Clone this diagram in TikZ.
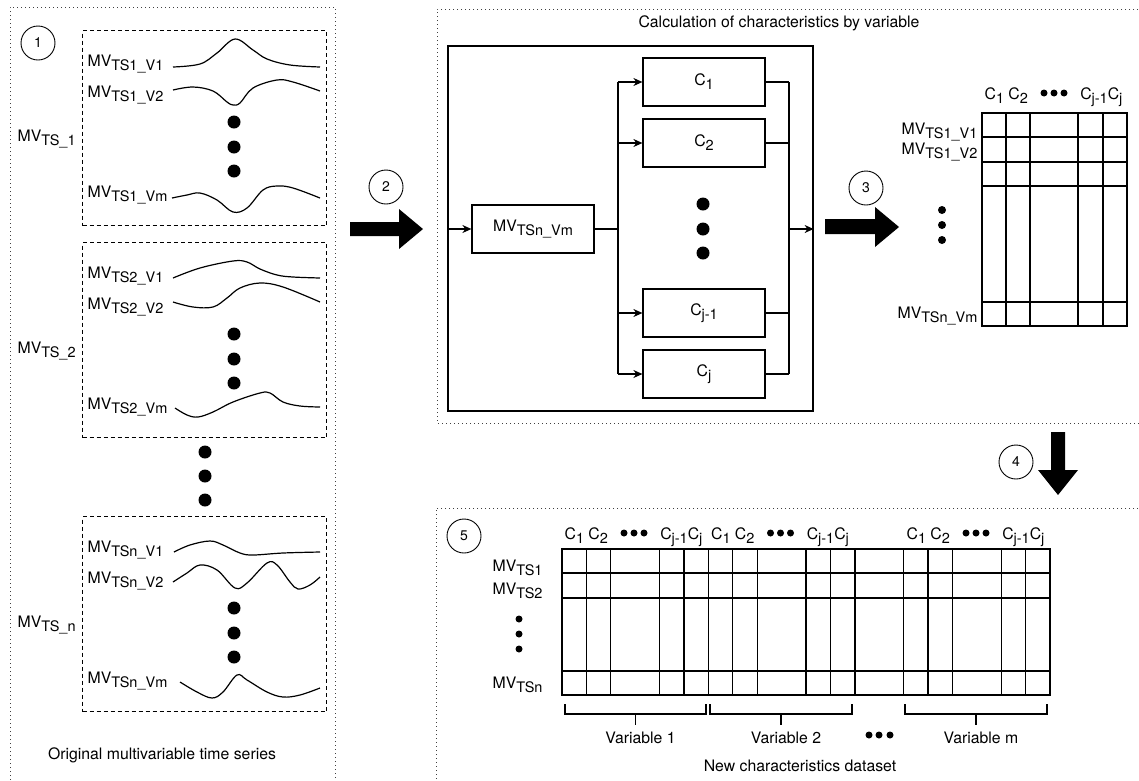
\documentclass[tikz,border=0pt]{standalone}
\usepackage{fontspec}
\setmainfont{TeX Gyre Heros}
\usetikzlibrary{arrows.meta}
\newcommand{\lowsub}[1]{\raisebox{-4pt}{\fontsize{14.5}{15}\selectfont #1}}
\tikzset{
  >={Stealth[length=9pt,width=8pt]},
  lbl/.style={inner sep=0pt,font=\fontsize{15.8}{18}\selectfont},
  num/.style={circle,draw,line width=0.9pt,minimum size=34pt,inner sep=0pt,font=\fontsize{14}{14}\selectfont},
  cbox/.style={draw,line width=1.2pt,minimum width=122pt,minimum height=48pt,inner sep=0pt,font=\fontsize{15.8}{18}\selectfont},
  panel/.style={line width=1pt,black!75,dash pattern=on 1pt off 3pt},
  grp/.style={draw,line width=1pt,dash pattern=on 4pt off 3pt,minimum width=244pt,minimum height=195pt,inner sep=0pt},
  wave/.style={line width=1.2pt,smooth,tension=0.6},
  cell/.style={line width=1.1pt},
  cellb/.style={line width=1.7pt},
  brk/.style={line width=1.8pt},
  every picture/.style={line width=1.2pt},
}
\begin{document}
\begin{tikzpicture}[x=1pt,y=-1pt]
\useasboundingbox (0,0) rectangle (1139,780);
\clip (0,0) rectangle (1139,780);
\draw[panel] (10,800) -- (10,7) -- (335,7) -- (335,800);
\draw[panel] (1150,9) -- (437,9) -- (437,423) -- (1150,423);
\draw[panel] (1150,508) -- (436,508) -- (436,800);
\node[num] (n1) at (38,43) {1};
\node[num] (n2) at (386,187) {2};
\node[num] (n3) at (866,188) {3};
\node[num] (n4) at (1016,462) {4};
\node[num] (n5) at (464,536) {5};
\foreach \gy/\s [count=\k] in {30/1, 242/2, 516/n} {
  \node[grp,anchor=north west] (g\k) at (82,\gy) {};
  \node[lbl,anchor=base west] (gl\k) at (17,\gy+111) {MV\lowsub{TS\_\s}};
  \node[lbl,anchor=base west] (ga\k) at (87,\gy+36) {MV\lowsub{TS\s\_V1}};
  \node[lbl,anchor=base west] (gb\k) at (87,\gy+67) {MV\lowsub{TS\s\_V2}};
  \node[lbl,anchor=base west] (gm\k) at (87,\gy+167) {MV\lowsub{TS\s\_Vm}};
  \foreach \d in {92,117,141} \fill (234,\gy+\d) circle (6.5);
}
\foreach \d in {452,476,500} \fill (205,\d) circle (6.5);
\draw[wave] plot coordinates {(173,67) (200,64) (217,53) (235,39) (253,50) (267,59) (290,65) (320,67)};
\draw[wave] plot coordinates {(173,90) (193,87) (213,91) (227,102) (233,105) (240,103) (253,88) (277,80) (293,82) (320,91)};
\draw[wave] plot coordinates {(172,198) (187,195) (200,193) (217,200) (233,212) (247,208) (263,190) (277,186) (293,188) (320,198)};
\draw[wave] plot coordinates {(173,278) (200,268) (233,261) (247,262) (260,269) (277,275) (293,277) (320,278)};
\draw[wave] plot coordinates {(173,302) (193,307) (213,307) (227,298) (240,288) (260,283) (283,287) (320,302)};
\draw[wave] plot coordinates {(175,408) (187,415) (198,417) (213,412) (233,402) (260,393) (270,393) (283,402) (300,406) (320,407)};
\draw[wave] plot coordinates {(174,552) (190,545) (210,541) (223,545) (240,553) (253,555) (283,553) (320,552)};
\draw[wave] plot coordinates {(173,582) (187,573) (200,565) (217,570) (235,588) (247,583) (267,563) (277,565) (290,582) (298,589) (310,585) (320,577)};
\draw[wave] plot coordinates {(180,682) (197,692) (212,698) (223,692) (237,675) (247,680) (267,692) (283,697) (300,695) (320,688)};
\node[lbl,anchor=base] (orig) at (162,759) {Original multivariable time series};
\fill (350,222) -- (399,222) -- (399,209) -- (423,229) -- (399,249) -- (399,236) -- (350,236) -- cycle;
\fill (825,219) -- (875,219) -- (875,207) -- (899,227) -- (875,247) -- (875,234) -- (825,234) -- cycle;
\fill (1051,432) -- (1051,470) -- (1038,470) -- (1058,495) -- (1078,470) -- (1065,470) -- (1065,432) -- cycle;
\node[lbl,anchor=base] (title) at (779,27) {Calculation of characteristics by variable};
\node[draw,minimum width=365pt,minimum height=365pt,inner sep=0pt] (calc) at (630.5,228.5) {};
\node[cbox] (mv) at (533,229) {MV\lowsub{TSn\_Vm}};
\node[cbox] (c1) at (704,82) {C\lowsub{1}};
\node[cbox] (c2) at (704,143) {C\lowsub{2}};
\node[cbox] (cj1) at (704,313) {C\lowsub{j-1}};
\node[cbox] (cj) at (704,374) {C\lowsub{j}};
\coordinate (split) at (618,229);
\coordinate (join) at (789,229);
\draw[->] (calc.west |- mv) -- (mv);
\draw (mv) -- (split);
\draw (split |- c1) -- (split |- cj);
\draw (join |- c1) -- (join |- cj);
\foreach \c in {c1,c2,cj1,cj} {
  \draw[->] (split |- \c) -- (\c);
  \draw (\c) -- (join |- \c);
}
\draw[->] (join) -- (calc.east |- join);
\foreach \d in {204,229,253} \fill (703,\d) circle (6.5);
\foreach \hx/\hy [count=\k] in {982/99, 562/539, 708.5/539, 904/539} {
  \node[lbl,anchor=base west] (hl\k) at (\hx+2,\hy) {C\lowsub{1} C\lowsub{2}};
  \foreach \d in {62,72,82} \fill (\hx+\d,\hy-6) circle (3.5);
  \node[lbl,anchor=base east] (hr\k) at (\hx+141,\hy) {C\lowsub{j-1}C\lowsub{j}};
}
\foreach \y in {137,162,186,302} \draw[cell] (982,\y) -- (1127,\y);
\foreach \x in {1006,1030,1078,1103} \draw[cell] (\x,113) -- (\x,326);
\draw[cellb] (982,113) rectangle (1127,326);
\node[lbl,anchor=base east] (ra) at (978,134) {MV\lowsub{TS1\_V1}};
\node[lbl,anchor=base east] (rb) at (978,154) {MV\lowsub{TS1\_V2}};
\node[lbl,anchor=base east] (rm) at (978,318) {MV\lowsub{TSn\_Vm}};
\foreach \d in {210,225,240} \fill (942,\d) circle (4);
\foreach \y in {573,598,671} \draw[cell] (562,\y) -- (1050,\y);
\foreach \k in {1,2,4,5,7,8,10,11,15,16,18,19} \draw[cell] (562+\k*24.4,549) -- (562+\k*24.4,695);
\foreach \k in {6,12,14} \draw[cellb] (562+\k*24.4,549) -- (562+\k*24.4,695);
\draw[cellb] (562,549) rectangle (1050,695);
\node[lbl,anchor=base west] (t1) at (492,571) {MV\lowsub{TS1}};
\node[lbl,anchor=base west] (t2) at (492,594) {MV\lowsub{TS2}};
\node[lbl,anchor=base west] (tn) at (492,688) {MV\lowsub{TSn}};
\foreach \d in {619,634,649} \fill (519,\d) circle (3.5);
\foreach \a/\b/\t [count=\k] in {565/706/1, 710/852/2, 905/1047/m} {
  \draw[brk] (\a,704) -- (\a,714) -- (\b,714) -- (\b,704);
  \draw[brk] ({(\a+\b)/2},714) -- ({(\a+\b)/2},725);
  \node[lbl,anchor=base] (var\k) at ({(\a+\b)/2+5},743) {Variable \t};
}
\foreach \d in {869,879,890} \fill (\d,735) circle (3.5);
\node[lbl,anchor=base] (newds) at (800,771) {New characteristics dataset};
\end{tikzpicture}
\end{document}
